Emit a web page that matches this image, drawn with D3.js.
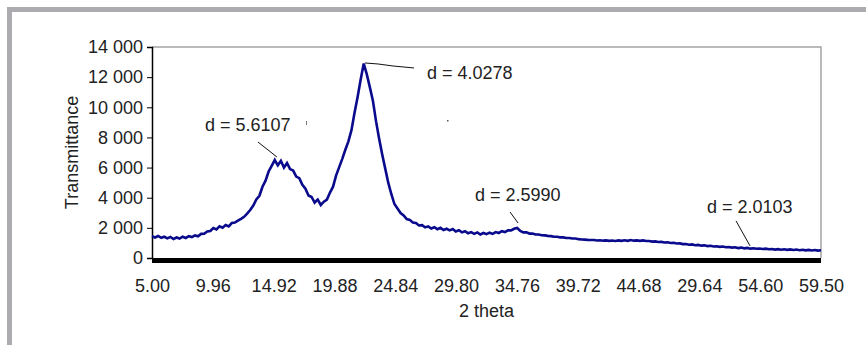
<!DOCTYPE html>
<html>
<head>
<meta charset="utf-8">
<script src="https://cdn.jsdelivr.net/npm/d3@7"></script>
<style>
  html, body { margin: 0; padding: 0; background: #ffffff; }
  svg { display: block; }
  text { font-family: "Liberation Sans", Arial, sans-serif; fill: #222; }
</style>
</head>
<body>
<div id="chart"></div>
<script>
// ---------------- DATA ----------------
const xTickLabels = ["5.00","9.96","14.92","19.88","24.84","29.80","34.76","39.72","44.68","29.64","54.60","59.50"];
const yTickValues = [0, 2000, 4000, 6000, 8000, 10000, 12000, 14000];
const xDomain = [5.0, 59.5];
const yDomain = [0, 14000];
const thetaStart = 5.0;
const thetaStep = 0.25;
// transmittance, one value per 0.25 deg of 2 theta (5.00 .. 59.50)
const transmittance = [
  1440,1360,1460,1340,1410,1300,1400,1260,
  1360,1290,1410,1330,1450,1390,1500,1440,
  1600,1610,1760,1790,1990,1900,2100,2010,
  2190,2100,2320,2350,2480,2600,2730,2940,
  3180,3480,3880,4130,4730,5130,5740,6120,
  6500,6150,6450,6000,6300,5900,5800,5400,
  5300,4850,4600,4150,4050,3680,3880,3520,
  3740,3880,4340,4730,5480,6030,6580,7180,
  7740,8480,9640,10680,11840,12900,12180,11320,
  10420,9080,7930,6880,5930,4980,4230,3580,
  3280,2980,2830,2580,2530,2360,2330,2160,
  2180,2030,2100,1960,2040,1910,2000,1860,
  1940,1830,1920,1760,1840,1700,1780,1640,
  1720,1600,1700,1560,1660,1580,1680,1600,
  1720,1660,1780,1720,1840,1830,1940,1990,
  1800,1700,1700,1620,1620,1560,1560,1510,
  1500,1470,1450,1410,1410,1370,1370,1330,
  1330,1290,1290,1250,1230,1220,1200,1190,
  1190,1160,1180,1150,1170,1140,1160,1130,
  1170,1140,1180,1140,1190,1150,1170,1140,
  1170,1130,1130,1090,1100,1060,1070,1030,
  1040,1000,1010,960,970,920,930,880,
  900,850,870,820,840,790,810,760,
  780,740,760,710,730,690,710,660,
  690,640,670,620,650,610,630,600,
  620,580,600,560,590,550,580,540,
  570,530,560,520,550,510,540,500,
  530,490,520
];
const annLabels = ["d = 5.6107", "d = 4.0278", "d = 2.5990", "d = 2.0103"];
const annTheta  = [15.18, 22.35, 34.82, 53.72];
const annValue  = [6700, 12940, 2320, 800];

// ---------------- LAYOUT ----------------
const W = 866, H = 345;
const plot = { left: 152, right: 821, top: 47, bottom: 258 };
const fontSize = 18;
// leader polylines (pixel offsets from anchor) and label offsets (baseline start)
const annLeaders = [
  [[0,0],[-19,-15]],
  [[0,0],[13,1],[28,3],[49,5]],
  [[0,0],[-8,-11]],
  [[0,0],[-14,-25]]
];
const annText = [[-72,-26],[62,16],[-43,-22],[-43,-33]];

const data = transmittance.map((v, i) => ({ t: thetaStart + i * thetaStep, v }));

const svg = d3.select("#chart").append("svg")
  .attr("width", W).attr("height", H);

// outer frame (grey bars)
svg.append("rect").attr("x", 7).attr("y", 7).attr("width", W - 7).attr("height", 5).attr("fill", "#acacb0");
svg.append("rect").attr("x", 7).attr("y", 7).attr("width", 5).attr("height", H - 7).attr("fill", "#acacb0");

const x = d3.scaleLinear().domain(xDomain).range([plot.left, plot.right]);
const y = d3.scaleLinear().domain(yDomain).range([plot.bottom, plot.top]);
const xLab = d3.scalePoint().domain(xTickLabels).range([plot.left, plot.right]);

// plot frame (top & right grey)
svg.append("path")
  .attr("d", `M${plot.left},${y(14000)}H${x(59.5)}V${y(0)}`)
  .attr("fill", "none").attr("stroke", "#a4a4a4").attr("stroke-width", 1.5);

// y axis
const yAxis = svg.append("g")
  .attr("transform", `translate(${plot.left},0)`)
  .call(d3.axisLeft(y).tickValues(yTickValues).tickSize(5).tickPadding(4)
    .tickFormat(d => d3.format(",")(d).replace(/,/g, " ")));
yAxis.select(".domain").attr("stroke", "#000").attr("stroke-width", 1.5);
yAxis.selectAll(".tick line").attr("stroke", "#000");
yAxis.selectAll("text").style("font-size", fontSize + "px")
  .style("font-family", "'Liberation Sans', Arial, sans-serif").attr("fill", "#222");

// x axis labels
const xAxis = svg.append("g")
  .attr("transform", `translate(0,${y(0)})`)
  .call(d3.axisBottom(xLab).tickSize(0).tickPadding(21));
xAxis.select(".domain").remove();
xAxis.selectAll("text").style("font-size", fontSize + "px")
  .style("font-family", "'Liberation Sans', Arial, sans-serif").attr("fill", "#222");

// data line
svg.append("path")
  .datum(data)
  .attr("fill", "none")
  .attr("stroke", "#0a0a8c")
  .attr("stroke-width", 2.6)
  .attr("stroke-linejoin", "miter")
  .attr("d", d3.line().x(d => x(d.t)).y(d => y(d.v)));

// thick x axis bar
svg.append("line")
  .attr("x1", x(xDomain[0])).attr("x2", x(xDomain[1]))
  .attr("y1", y(0) + 2.5).attr("y2", y(0) + 2.5)
  .attr("stroke", "#000").attr("stroke-width", 5);

// annotations
annLabels.forEach((lab, i) => {
  const ax = x(annTheta[i]), ay = y(annValue[i]);
  svg.append("path")
    .attr("d", d3.line()(annLeaders[i].map(p => [ax + p[0], ay + p[1]])))
    .attr("fill", "none").attr("stroke", "#111").attr("stroke-width", 1);
  svg.append("text")
    .attr("x", ax + annText[i][0]).attr("y", ay + annText[i][1])
    .style("font-size", fontSize + "px")
    .text(lab);
});
// stray marks seen in the picture
svg.append("line").attr("x1", 306.5).attr("x2", 306.5).attr("y1", 121).attr("y2", 125).attr("stroke", "#777").attr("stroke-width", 1);
svg.append("rect").attr("x", 447).attr("y", 120).attr("width", 1.5).attr("height", 1.5).attr("fill", "#555");

// axis titles
svg.append("text")
  .attr("transform", `translate(78,${(plot.top + plot.bottom) / 2}) rotate(-90)`)
  .attr("text-anchor", "middle")
  .style("font-size", fontSize + "px")
  .text("Transmittance");
svg.append("text")
  .attr("x", (plot.left + plot.right) / 2).attr("y", 317)
  .attr("text-anchor", "middle")
  .style("font-size", fontSize + "px")
  .text("2 theta");
</script>
</body>
</html>
